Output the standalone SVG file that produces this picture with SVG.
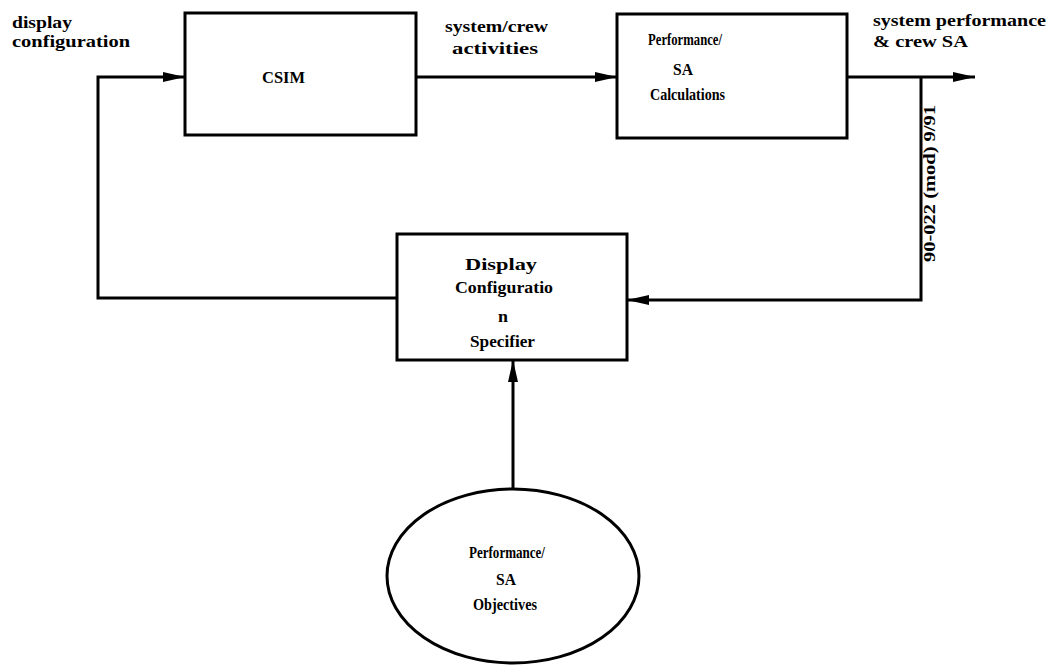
<svg xmlns="http://www.w3.org/2000/svg" width="1047" height="665" viewBox="0 0 1047 665">
<defs>
<style>
.box{fill:#fff;stroke:#000;stroke-width:3}
.ln{fill:none;stroke:#000;stroke-width:3}
.t{font-family:"Liberation Serif","Times New Roman",serif;font-weight:bold;font-size:17px;fill:#000}
.r{font-family:"Liberation Serif","Times New Roman",serif;font-weight:bold;font-size:17px;fill:#000}
</style>
<marker id="ah" viewBox="0 0 22 10" refX="22" refY="5" markerWidth="22" markerHeight="10" markerUnits="userSpaceOnUse" orient="auto">
<path d="M0,0 L22,5 L0,10 Z" fill="#000"/>
</marker>
</defs>
<rect width="1047" height="665" fill="#fff"/>
<g id="connectors">
<path class="ln" d="M416,77 L617,77" marker-end="url(#ah)"/>
<path class="ln" d="M847,77 L975,77" marker-end="url(#ah)"/>
<path class="ln" d="M921,77 L921,300 L627,300" marker-end="url(#ah)"/>
<path class="ln" d="M397,298 L98,298 L98,77 L185,77" marker-end="url(#ah)"/>
<path class="ln" d="M513,488 L513,360" marker-end="url(#ah)"/>
</g>
<g id="label-display-configuration">
<text class="t" x="12" y="28" textLength="60" lengthAdjust="spacingAndGlyphs">display</text>
<text class="t" x="12" y="47" textLength="118" lengthAdjust="spacingAndGlyphs">configuration</text>
</g>
<g id="label-system-crew">
<text class="t" x="445" y="32" textLength="103" lengthAdjust="spacingAndGlyphs">system/crew</text>
<text class="t" x="452" y="54" textLength="86" lengthAdjust="spacingAndGlyphs">activities</text>
</g>
<g id="label-output">
<text class="t" x="873" y="26" textLength="173" lengthAdjust="spacingAndGlyphs">system performance</text>
<text class="t" x="873" y="47" textLength="95" lengthAdjust="spacingAndGlyphs">&amp; crew SA</text>
</g>
<g id="label-code">
<text class="r" transform="translate(935,262) rotate(-90)" textLength="157" lengthAdjust="spacingAndGlyphs">90-022 (mod) 9/91</text>
</g>
<g id="csim">
<rect class="box" x="185" y="13" width="231" height="122"/>
<text class="t" x="262" y="83" textLength="43" lengthAdjust="spacingAndGlyphs">CSIM</text>
</g>
<g id="calculations">
<rect class="box" x="617" y="14" width="230" height="124"/>
<text class="t" x="648" y="45" textLength="74" lengthAdjust="spacingAndGlyphs">Performance/</text>
<text class="t" x="673" y="75" textLength="20" lengthAdjust="spacingAndGlyphs">SA</text>
<text class="t" x="650" y="100" textLength="75" lengthAdjust="spacingAndGlyphs">Calculations</text>
</g>
<g id="specifier">
<rect class="box" x="397" y="234" width="230" height="126"/>
<text class="t" x="465" y="270" textLength="72" lengthAdjust="spacingAndGlyphs">Display</text>
<text class="t" x="455" y="293" textLength="98" lengthAdjust="spacingAndGlyphs">Configuratio</text>
<text class="t" x="498" y="322" textLength="10" lengthAdjust="spacingAndGlyphs">n</text>
<text class="t" x="470" y="347" textLength="65" lengthAdjust="spacingAndGlyphs">Specifier</text>
</g>
<g id="objectives">
<ellipse class="box" cx="513" cy="576" rx="126" ry="87"/>
<text class="t" x="469" y="558" textLength="76" lengthAdjust="spacingAndGlyphs">Performance/</text>
<text class="t" x="496" y="585" textLength="20" lengthAdjust="spacingAndGlyphs">SA</text>
<text class="t" x="473" y="610" textLength="64" lengthAdjust="spacingAndGlyphs">Objectives</text>
</g>
</svg>
